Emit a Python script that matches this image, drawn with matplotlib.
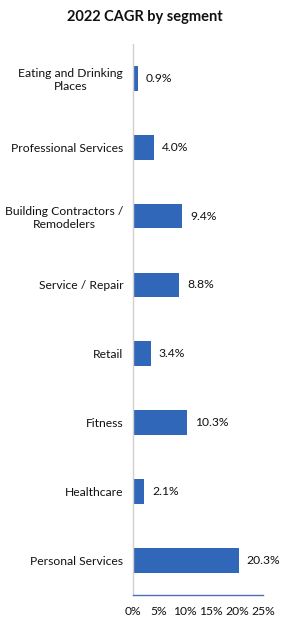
import matplotlib
matplotlib.use("Agg")
import matplotlib.pyplot as plt
from matplotlib.ticker import FuncFormatter

categories = ["Eating and Drinking\nPlaces", "Professional Services",
              "Building Contractors /\nRemodelers", "Service / Repair", "Retail",
              "Fitness", "Healthcare", "Personal Services"]
values = [0.9, 4.0, 9.4, 8.8, 3.4, 10.3, 2.1, 20.3]
xticks = [0, 5, 10, 15, 20, 25]

plt.rcParams['font.family'] = ['Lato', 'DejaVu Sans']

fig = plt.figure(figsize=(2.89, 6.25), dpi=100)
ax = fig.add_axes([0.460, 0.048, 0.450, 0.882])

ypos = list(range(len(categories)))
ax.barh(ypos, values, height=0.36, color="#3167B9")
ax.set_ylim(len(categories) - 0.5, -0.5)
ax.set_xlim(0, 25)
ax.set_yticks(ypos)
ax.set_yticklabels(categories, fontsize=8.7, color="#111111")
for lbl in ax.get_yticklabels():
    lbl.set_multialignment('center')
    lbl.set_linespacing(1.25)
ax.set_xticks(xticks)
ax.xaxis.set_major_formatter(FuncFormatter(lambda v, p: f"{int(v)}%"))
ax.tick_params(axis='both', length=0, labelsize=8.7, colors="#111111")
ax.tick_params(axis='y', pad=7)
ax.tick_params(axis='x', pad=8)

for y, v in zip(ypos, values):
    ax.text(v + 1.6, y, f"{v:.1f}%", va='center', ha='left', fontsize=8.7, color="#111111")

for s in ['top', 'right']:
    ax.spines[s].set_visible(False)
ax.spines['left'].set_color("#D0D0D0")
ax.spines['left'].set_linewidth(1)
ax.spines['bottom'].set_color("#4A6FB5")
ax.spines['bottom'].set_linewidth(1)

fig.text(0.5, 0.972, "2022 CAGR by segment", ha='center', va='center',
         fontsize=10.5, fontweight='bold', color="#111111")

fig.savefig("out.png", dpi=100, facecolor='white')
